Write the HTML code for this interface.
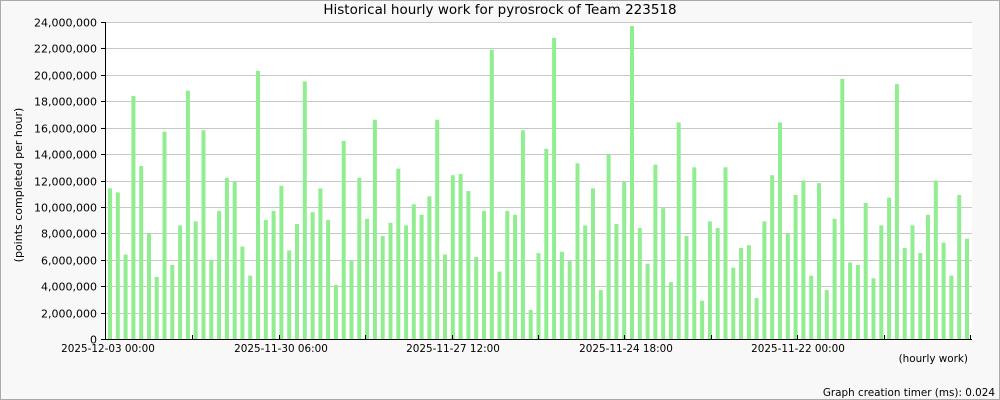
<!DOCTYPE html>
<html><head><meta charset="utf-8"><style>
html,body{margin:0;padding:0;background:#f8f8f8;}
svg{display:block;font-family:"DejaVu Sans","Liberation Sans",sans-serif;}
</style></head><body>
<svg width="1000" height="400" xmlns="http://www.w3.org/2000/svg">
<rect x="0" y="0" width="1000" height="400" fill="#f8f8f8"/>
<rect x="0.5" y="0.5" width="999" height="399" fill="none" stroke="#aaa"/>
<rect x="105" y="22" width="867" height="317" fill="#fff"/>
<g id="grid" stroke="#c8c8c8" stroke-width="1"></g>
<g id="bars" fill="#90ee90"></g>
<g id="axis" stroke="#000" stroke-width="1"></g>
<g id="ylab" font-size="11" text-anchor="end" fill="#000"></g>
<g font-size="10.4" fill="#000" text-anchor="middle">
<text x="108" y="352">2025-12-03 00:00</text>
<text x="281" y="352">2025-11-30 06:00</text>
<text x="453" y="352">2025-11-27 12:00</text>
<text x="626" y="352">2025-11-24 18:00</text>
<text x="798" y="352">2025-11-22 00:00</text>
</g>
<text x="968" y="362" font-size="10.4" text-anchor="end">(hourly work)</text>
<text x="500" y="14" font-size="13.5" text-anchor="middle">Historical hourly work for pyrosrock of Team 223518</text>
<text x="22" y="185" font-size="11" text-anchor="middle" transform="rotate(-90 22 185)">(points completed per hour)</text>
<text x="995" y="396" font-size="10.4" text-anchor="end">Graph creation timer (ms): 0.024</text>
</svg>
<script>
var ns="http://www.w3.org/2000/svg";
function el(p,t,a){var e=document.createElementNS(ns,t);for(var k in a)e.setAttribute(k,a[k]);document.getElementById(p).appendChild(e);return e;}
var y0=339,s=317/24;
for(var v=0;v<=24;v+=2){var y=Math.round(y0-v*s)+0.5;
 if(v>0)el("grid","line",{x1:105,x2:972,y1:y,y2:y});
 el("axis","line",{x1:101,x2:105,y1:y,y2:y});
 var t=el("ylab","text",{x:97,y:y+4});t.textContent=(v*1000000).toLocaleString("en-US");}
var d=[11.4,11.1,6.4,18.4,13.1,8.0,4.7,15.7,5.6,8.6,18.8,8.9,15.8,6.0,9.7,12.2,11.9,7.0,4.8,20.3,9.0,9.7,11.6,6.7,8.7,19.5,9.6,11.4,9.0,4.1,15.0,5.9,12.2,9.1,16.6,7.8,8.8,12.9,8.6,10.2,9.4,10.8,16.6,6.4,12.4,12.5,11.2,6.2,9.7,21.9,5.1,9.7,9.4,15.8,2.2,6.5,14.4,22.8,6.6,5.9,13.3,8.6,11.4,3.7,14.0,8.7,11.9,23.7,8.4,5.7,13.2,9.9,4.3,16.4,7.8,13.0,2.9,8.9,8.4,13.0,5.4,6.9,7.1,3.1,8.9,12.4,16.4,8.0,10.9,12.0,4.8,11.8,3.7,9.1,19.7,5.8,5.6,10.3,4.6,8.6,10.7,19.3,6.9,8.6,6.5,9.4,12.0,7.3,4.8,10.9,7.6];
for(var i=0;i<d.length;i++){var x=108+i*(857/110);var h=d[i]*s;
 el("bars","rect",{x:x.toFixed(1),y:(y0-h).toFixed(1),width:4,height:h.toFixed(1)});}
el("axis","line",{x1:105.5,x2:105.5,y1:22,y2:339});
el("axis","line",{x1:105,x2:972,y1:339.5,y2:339.5});
[192,279,365,452,538,624,711,797,884,970].forEach(function(x){el("axis","line",{x1:x+0.5,x2:x+0.5,y1:339,y2:335});});
</script>
</body></html>
